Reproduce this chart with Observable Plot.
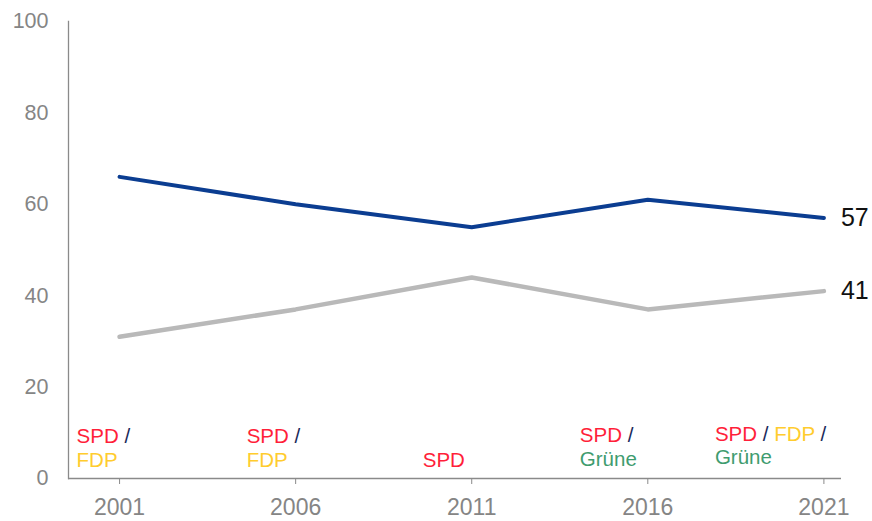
<!DOCTYPE html>
<html>
<head>
<meta charset="utf-8">
<script src="https://cdn.jsdelivr.net/npm/d3@7"></script>
<script src="https://cdn.jsdelivr.net/npm/@observablehq/plot@0.6"></script>
<style>
  html, body { margin: 0; padding: 0; background: #fff; }
  svg { display: block; }
</style>
</head>
<body>
<div id="chart"></div>
<script>
// ---- data ----
const years = [2001, 2006, 2011, 2016, 2021];
const seriesA = [66, 60, 55, 61, 57];   // blue series
const seriesB = [31, 37, 44, 37, 41];   // gray series
const yTicks = [0, 20, 40, 60, 80, 100];
const coalitionLine1 = ["SPD /", "SPD /", "", "SPD /", "SPD / FDP /"];
const coalitionLine2 = ["FDP", "FDP", "SPD", "Grüne", "Grüne"];

// ---- styles / layout ----
const partyColors = {SPD: "#ff1f3a", FDP: "#ffcc2e", "Grüne": "#3f9c6f", "/": "#1a2a5a"};
const labelDx = [-43, -49, -49, -68, -109];
const labelDy1 = [-36, -36, -36, -37, -38];
const labelDy2 = [-12, -12, -12, -13, -15];
const font = "'Liberation Sans', Arial, sans-serif";

const rowsA = years.map((year, i) => ({year, value: seriesA[i]}));
const rowsB = years.map((year, i) => ({year, value: seriesB[i]}));
const endRows = [rowsA[rowsA.length - 1], rowsB[rowsB.length - 1]];

const coalitionMarks = [];
years.forEach((year, i) => {
  if (coalitionLine1[i]) coalitionMarks.push(Plot.text([{year, t: coalitionLine1[i]}], {
    x: "year", y: () => 0, text: "t", textAnchor: "start", lineAnchor: "bottom",
    dx: labelDx[i], dy: labelDy1[i], fontSize: 20.5, className: "coal"
  }));
  if (coalitionLine2[i]) coalitionMarks.push(Plot.text([{year, t: coalitionLine2[i]}], {
    x: "year", y: () => 0, text: "t", textAnchor: "start", lineAnchor: "bottom",
    dx: labelDx[i], dy: labelDy2[i], fontSize: 20.5, className: "coal"
  }));
});

const chart = Plot.plot({
  width: 872,
  height: 521,
  marginLeft: 68,
  marginRight: 31,
  marginTop: 21,
  marginBottom: 43,
  style: {fontFamily: font, background: "#fff"},
  x: {domain: [1999.55, 2021.5]},
  y: {domain: [0, 100]},
  marks: [
    Plot.axisY({ticks: yTicks, tickSize: 0, tickPadding: 20, fontSize: 21.5, color: "#858585", label: null}),
    Plot.axisX({ticks: years, tickFormat: d => String(d), tickSize: 6, tickPadding: 14, fontSize: 23, color: "#858585", stroke: "#8a8a8a", label: null}),
    Plot.ruleY([0], {stroke: "#8a8a8a", strokeWidth: 1.3}),
    Plot.frame({anchor: "left", stroke: "#8a8a8a", strokeWidth: 1.3}),
    Plot.line(rowsB, {x: "year", y: "value", stroke: "#b9b9b9", strokeWidth: 4.5}),
    Plot.line(rowsA, {x: "year", y: "value", stroke: "#0b3d91", strokeWidth: 4}),
    Plot.text(endRows, {x: "year", y: "value", text: d => String(d.value), textAnchor: "start", dx: 17, fontSize: 25, fill: "#111"}),
    ...coalitionMarks
  ]
});

// colour each word of the coalition labels by party
d3.select(chart).selectAll(".coal text").each(function () {
  const el = d3.select(this);
  const str = this.textContent;
  el.text(null);
  const tokens = str.split(" ");
  tokens.forEach((tok, j) => {
    el.append("tspan")
      .attr("fill", partyColors[tok] || "#1a2a5a")
      .text(tok + (j < tokens.length - 1 ? " " : ""));
  });
  el.attr("xml:space", "preserve");
});

document.getElementById("chart").append(chart);
</script>
</body>
</html>
